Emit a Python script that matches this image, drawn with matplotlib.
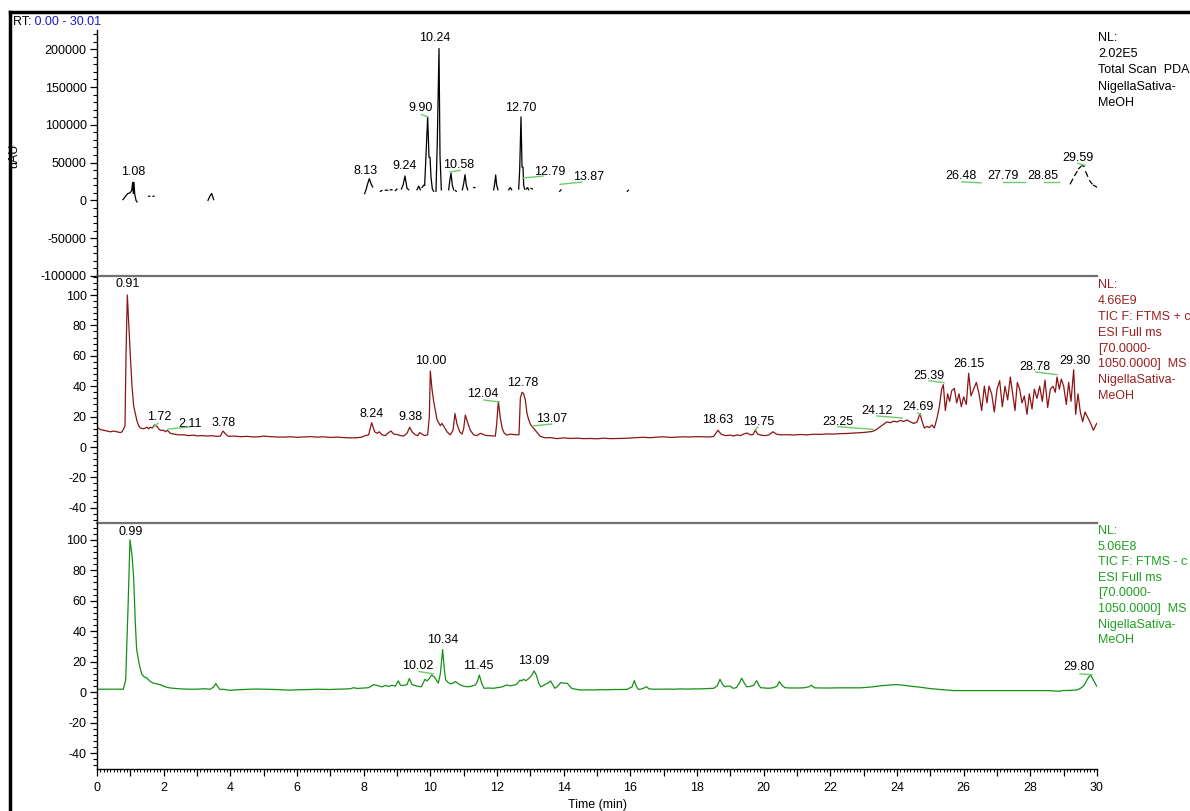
import numpy as np
import matplotlib
matplotlib.use("Agg")
import matplotlib.pyplot as plt
from matplotlib.lines import Line2D
from matplotlib.ticker import MultipleLocator, FuncFormatter

plt.rcParams['font.family'] = ['Liberation Sans', 'DejaVu Sans']
plt.rcParams['font.size'] = 9
plt.rcParams['axes.unicode_minus'] = False

nan = np.nan

# ---------------- data ----------------
# Panel 1: PDA total scan (broken trace, NaN = gap)
pda_t = [0.78, 0.85, 0.92, 0.99, 1.04, 1.07, 1.09, 1.11, 1.13, 1.17, 1.20, nan,
         1.55, 1.58, nan, 1.68, 1.71, nan,
         3.33, 3.38, 3.42, nan, 3.44, 3.47, 3.50, nan,
         8.03, 8.07, 8.12, 8.17, 8.22, 8.27, nan,
         8.50, 8.55, nan, 8.65, 8.72, nan, 8.80, 8.85, nan, 8.95, 9.00, nan,
         9.13, 9.18, 9.24, 9.30, 9.35, nan,
         9.60, 9.65, 9.70, nan, 9.75, 9.80, nan,
         9.83, 9.87, 9.92, 9.96, 9.99, 10.02, 10.06, 10.10, nan,
         10.17, 10.21, 10.26, 10.29, 10.33, nan,
         10.55, 10.58, 10.62, 10.66, 10.70, nan, 10.75, 10.78, nan,
         10.96, 11.00, 11.04, 11.08, 11.12, nan,
         11.30, 11.34, nan,
         11.90, 11.93, 11.96, 11.99, 12.03, nan,
         12.35, 12.40, 12.44, nan,
         12.65, 12.68, 12.72, 12.75, 12.78, 12.80, 12.83, nan,
         12.88, 12.92, 12.95, nan, 13.02, 13.06, nan,
         13.88, 13.92, nan, 15.91, 15.94, nan,
         29.20, 29.27, nan, 29.33, 29.40, nan, 29.45, 29.52, nan, 29.56, 29.61, nan,
         29.66, 29.72, nan, 29.78, 29.85, nan, 29.90, 29.99]
pda_v = [1000, 5000, 9000, 10000, 13000, 24000, 9000, 24000, 9000, 0, -2000, nan,
         5500, 5500, nan, 5500, 5500, nan,
         0, 5000, 8000, nan, 9000, 5000, 1000, nan,
         9000, 14000, 22000, 28800, 22000, 17700, nan,
         12000, 13000, nan, 13500, 13500, nan, 14000, 14000, nan, 13000, 15000, nan,
         15000, 20000, 32300, 16000, 14000, nan,
         14000, 19000, 14000, nan, 17000, 20000, nan,
         20000, 60000, 110500, 57000, 57000, 31000, 15000, 12000, nan,
         12000, 80000, 201000, 60000, 14000, nan,
         14000, 25000, 36000, 20000, 14000, nan, 13000, 12000, nan,
         14000, 22000, 34000, 20000, 14000, nan,
         17000, 17000, nan,
         14000, 22000, 33600, 20000, 14000, nan,
         14000, 17000, 14000, nan,
         15000, 40000, 110500, 44000, 44000, 20000, 15000, nan,
         15000, 17000, 14000, nan, 16000, 15000, nan,
         12000, 14000, nan, 12000, 13500, nan,
         22000, 28000, nan, 33000, 38000, nan, 42000, 45000, nan, 46000, 45000, nan,
         38000, 32000, nan, 26000, 22000, nan, 20000, 17700]

# Panel 2: TIC positive mode (relative abundance)
pos_t = [0.0, 0.1, 0.2, 0.3, 0.4, 0.5, 0.6, 0.7, 0.75, 0.8, 0.84, 0.87, 0.91, 0.96, 1.0,
         1.05, 1.1, 1.15, 1.2, 1.25, 1.3, 1.4, 1.5, 1.55, 1.6, 1.66, 1.72, 1.8, 1.85, 1.9,
         2.0, 2.05, 2.11, 2.2, 2.3, 2.45, 2.6, 2.75, 2.9, 3.0, 3.15, 3.3, 3.45, 3.6, 3.7,
         3.78, 3.88, 3.95, 4.1, 4.3, 4.5, 4.7, 4.9, 5.0, 5.2, 5.4, 5.6, 5.8, 6.0, 6.2, 6.4,
         6.6, 6.8, 7.0, 7.2, 7.4, 7.6, 7.8, 7.95, 8.05, 8.15, 8.24, 8.33, 8.4, 8.47, 8.55,
         8.65, 8.75, 8.82, 8.9, 9.0, 9.1, 9.2, 9.3, 9.38, 9.45, 9.55, 9.62, 9.68, 9.75,
         9.82, 9.92, 9.97, 10.0, 10.05, 10.1, 10.15, 10.2, 10.3, 10.35, 10.42, 10.5, 10.6,
         10.68, 10.74, 10.8, 10.88, 10.95, 11.0, 11.05, 11.12, 11.2, 11.3, 11.4, 11.5,
         11.57, 11.65, 11.75, 11.85, 11.95, 11.99, 12.04, 12.1, 12.16, 12.22, 12.3, 12.4,
         12.5, 12.6, 12.66, 12.7, 12.75, 12.8, 12.85, 12.9, 12.95, 13.0, 13.07, 13.15,
         13.22, 13.3, 13.45, 13.6, 13.8, 14.0, 14.2, 14.4, 14.6, 14.8, 15.0, 15.2, 15.4,
         15.6, 15.8, 16.0, 16.2, 16.4, 16.6, 16.8, 17.0, 17.2, 17.4, 17.6, 17.8, 18.0,
         18.2, 18.4, 18.5, 18.63, 18.72, 18.85, 19.0, 19.1, 19.2, 19.3, 19.4, 19.5, 19.6,
         19.68, 19.75, 19.82, 19.92, 20.05, 20.15, 20.28, 20.38, 20.5, 20.7, 20.9, 21.1,
         21.3, 21.5, 21.7, 21.9, 22.1, 22.3, 22.5, 22.7, 22.9, 23.1, 23.25, 23.35, 23.5,
         23.6, 23.7, 23.8, 23.9, 24.0, 24.1, 24.2, 24.3, 24.4, 24.5, 24.6, 24.69, 24.75,
         24.82, 24.9, 24.97, 25.05, 25.12, 25.2, 25.27, 25.34, 25.39, 25.45, 25.52, 25.58,
         25.64, 25.72, 25.79, 25.86, 25.93, 26.0, 26.08, 26.15, 26.22, 26.3, 26.38, 26.46,
         26.54, 26.62, 26.7, 26.76, 26.84, 26.92, 27.0, 27.08, 27.16, 27.24, 27.32, 27.4,
         27.47, 27.54, 27.61, 27.68, 27.75, 27.82, 27.9, 27.97, 28.05, 28.12, 28.2, 28.28,
         28.36, 28.44, 28.52, 28.6, 28.68, 28.75, 28.8, 28.87, 28.93, 29.0, 29.08, 29.15,
         29.22, 29.3, 29.36, 29.43, 29.5, 29.57, 29.64, 29.71, 29.8, 29.89, 29.99]
pos_v = [13, 11.5, 11, 10.5, 10, 10.5, 10, 9.5, 10, 12, 14, 60, 100, 78, 60,
         40, 27, 22, 17, 14, 12.5, 12, 13, 12, 13, 12.5, 14.5, 13.5, 12, 11,
         11, 10, 11, 9, 8.5, 8, 8, 7.5, 7.8, 7.3, 7.5, 7.2, 7.4, 7, 7.2,
         10.5, 8, 7, 7.2, 6.8, 7, 6.6, 6.8, 7.2, 6.8, 6.6, 6.5, 6.7, 6.4, 6.6, 6.8,
         6.5, 6.7, 6.3, 6.5, 6.2, 6.0, 6.1, 6.5, 7.5, 8, 16, 10, 9, 10, 8,
         7.5, 9.5, 10.5, 8.5, 8.2, 7.5, 7.2, 9, 13, 10, 8, 7.5, 9.5, 8.5,
         7.5, 8, 20, 50, 38, 30, 24, 18, 14, 15.5, 13, 10, 8,
         11, 22, 15, 10, 8.5, 12, 21, 16, 11, 8, 7.5, 9,
         8.5, 7.6, 7.5, 7.3, 7.2, 15, 30, 19, 12, 9, 7.8, 8.5,
         8.2, 8, 8.2, 32, 36, 35, 31, 22, 18, 15, 13, 11,
         9, 7, 6, 6.2, 5.5, 6, 5.6, 5.8, 5.5, 5.6, 5.4, 5.8, 5.5,
         5.6, 5.7, 5.9, 6.2, 6.4, 6.1, 6.5, 6.7, 6.3, 6.5, 6.7, 6.6, 6.8,
         6.7, 6.6, 7, 11, 8.5, 7.5, 7.8, 7.2, 8, 7.5, 8.5, 9.2, 8,
         8.2, 11, 8.5, 7.8, 7.5, 7.9, 10, 8.5, 8, 8.1, 7.9, 8.2,
         8, 8.4, 8.3, 8.6, 8.5, 8.8, 8.9, 9.2, 9.4, 9.8, 10.2, 11, 13.4,
         15, 16.5, 16, 17, 16.5, 17.5, 16.8, 17.8, 16.5, 15.5, 16.5, 22, 17,
         12.5, 13.5, 12.8, 14.5, 12.5, 19, 26.5, 38, 41, 24, 35, 30,
         37, 38.6, 29, 35, 26.5, 33, 28, 48.5, 33.6, 38, 42.5, 35,
         24, 40, 29, 40, 35, 23, 38, 43.6, 26.5, 40, 31, 46,
         35, 24, 42.5, 38, 29, 33.6, 21.5, 35, 25, 38, 32, 40,
         30, 44, 26, 38, 40, 36, 46, 38, 44.7, 40, 28, 42.5,
         30, 50.8, 21.5, 35, 23, 16.6, 23, 19.9, 16, 11, 15.5]

# Panel 3: TIC negative mode (relative abundance)
neg_t = [0.0, 0.4, 0.79, 0.86, 0.93, 0.99, 1.05, 1.1, 1.15, 1.19, 1.27, 1.34, 1.42, 1.49,
         1.6, 1.69, 1.8, 1.89, 2.0, 2.09, 2.2, 2.4, 2.6, 2.8, 3.0, 3.2, 3.4, 3.5, 3.56,
         3.63, 3.69, 3.8, 3.9, 4.0, 4.2, 4.4, 4.6, 4.8, 5.0, 5.2, 5.4, 5.6, 5.8, 6.0, 6.2,
         6.4, 6.6, 6.8, 7.0, 7.2, 7.4, 7.6, 7.7, 7.8, 8.0, 8.15, 8.3, 8.45, 8.55, 8.65,
         8.75, 8.85, 8.95, 9.04, 9.1, 9.2, 9.3, 9.37, 9.45, 9.6, 9.73, 9.84, 9.9, 9.97,
         10.04, 10.12, 10.18, 10.24, 10.3, 10.37, 10.42, 10.46, 10.53, 10.6, 10.68, 10.75,
         10.82, 10.9, 11.0, 11.1, 11.2, 11.35, 11.41, 11.47, 11.54, 11.61, 11.75, 11.89,
         12.0, 12.15, 12.29, 12.4, 12.54, 12.62, 12.69, 12.74, 12.79, 12.87, 12.95, 13.04,
         13.11, 13.18, 13.25, 13.31, 13.38, 13.46, 13.54, 13.61, 13.67, 13.74, 13.82, 13.91,
         14.0, 14.11, 14.18, 14.24, 14.35, 14.51, 14.7, 14.9, 15.1, 15.3, 15.5, 15.7, 15.9,
         16.05, 16.12, 16.18, 16.24, 16.35, 16.49, 16.56, 16.7, 16.9, 17.1, 17.3, 17.5,
         17.7, 17.9, 18.1, 18.3, 18.5, 18.6, 18.69, 18.77, 18.84, 18.92, 18.99, 19.08,
         19.18, 19.27, 19.34, 19.42, 19.49, 19.58, 19.7, 19.79, 19.86, 19.91, 20.02, 20.14,
         20.3, 20.4, 20.47, 20.55, 20.64, 20.8, 21.0, 21.2, 21.35, 21.44, 21.52, 21.7, 22.0,
         22.3, 22.6, 22.9, 23.2, 23.5, 23.8, 24.0, 24.2, 24.4, 24.7, 25.0, 25.3, 25.69,
         26.0, 26.5, 27.0, 27.5, 28.0, 28.5, 28.89, 28.95, 29.2, 29.39, 29.5, 29.59, 29.65,
         29.71, 29.76, 29.81, 29.88, 29.94, 29.99]
neg_v = [2, 2, 2, 8, 55, 100, 90, 75, 45, 28, 18, 12, 10, 9.4,
         7, 6, 5.5, 5, 4, 3.3, 2.8, 2.4, 2.1, 2, 2, 2.3, 2, 3.5, 5.7,
         3.5, 1.8, 2, 1.5, 1.3, 1.6, 1.8, 2, 2.1, 2, 1.9, 1.8, 1.5, 1.4, 1.6, 1.7,
         1.8, 2, 1.9, 1.8, 2, 2.1, 2.3, 3, 2.5, 2.8, 3, 5, 4.2, 3.5, 4.5,
         3.8, 4.6, 4, 7.5, 4.6, 4.5, 5, 9, 5, 4, 3.6, 8.5, 7.4, 9,
         11.4, 10, 8, 6, 12, 28, 15, 8.1, 6.5, 5.5, 6, 7,
         6, 4.8, 4, 3.6, 3.8, 4.8, 7, 11.3, 6, 2.6, 2.8, 2.6,
         3, 3.5, 4.8, 4.2, 4.8, 6, 8, 7.4, 8.5, 7.6, 9, 11,
         14, 11.3, 6, 3.6, 4.2, 5.4, 6.2, 7.4, 5, 2.6, 4, 6.3,
         6, 5.9, 4, 2.6, 2, 1.5, 1.6, 1.5, 1.7, 1.6, 1.8, 1.8, 1.9,
         3.5, 7.6, 4, 1.9, 2.2, 3.6, 2.2, 2, 2, 2.1, 2, 2.2,
         2.1, 2.2, 2.2, 2.4, 2.6, 4, 8.5, 5, 3.6, 4, 4, 2.6,
         3, 6, 9.2, 6, 3.6, 3.8, 4.5, 7.6, 4.5, 3, 2.8, 2.6,
         3, 4, 7, 4.5, 3, 2.8, 2.8, 2.9, 3.5, 4.6, 2.9, 2.8, 2.8,
         2.9, 2.9, 2.9, 3.4, 4.2, 4.8, 5, 4.6, 4, 3.3, 2.4, 1.8, 1.1,
         1.1, 1.1, 1.1, 1.1, 1.1, 1.1, 0.7, 1.1, 1.2, 1.5, 2.5, 4, 6,
         8.5, 10.2, 11.3, 8.5, 6, 4]

# Peak labels: (text, label x, label y)
pda_labels = [("1.08", 1.08, 37100), ("8.13", 8.07, 38500), ("9.24", 9.24, 45100),
              ("9.90", 9.72, 122000), ("10.24", 10.14, 214800), ("10.58", 10.86, 46400),
              ("12.70", 12.72, 122000), ("12.79", 13.59, 37100), ("13.87", 14.76, 30500),
              ("26.48", 25.92, 31800), ("27.79", 27.17, 31800), ("28.85", 28.38, 31800),
              ("29.59", 29.42, 55700)]
pos_labels = [("0.91", 0.93, 107.2), ("1.72", 1.86, 19.7), ("2.11", 2.79, 15.1),
              ("3.78", 3.81, 15.8), ("8.24", 8.25, 21.7), ("9.38", 9.39, 19.7),
              ("10.00", 10.02, 56.8), ("12.04", 11.57, 34.9), ("12.78", 12.78, 42.3),
              ("13.07", 13.64, 18.4), ("18.63", 18.63, 17.8), ("19.75", 19.86, 16.6),
              ("23.25", 22.22, 16.6), ("24.12", 23.40, 23.9), ("24.69", 24.62, 26.5),
              ("25.39", 24.95, 46.9), ("26.15", 26.16, 54.4), ("28.78", 28.14, 52.4),
              ("29.30", 29.33, 56.8)]
neg_labels = [("0.99", 1.00, 105.4), ("10.02", 9.63, 16.9), ("10.34", 10.37, 34.0),
              ("11.45", 11.45, 16.9), ("13.09", 13.10, 20.2), ("29.80", 29.45, 16.5)]

# Leader lines from displaced labels to their peaks: (x1, y1, x2, y2)
pda_leaders = [(9.74, 113600, 9.92, 110500), (10.59, 37500, 10.89, 39800),
               (12.78, 29600, 13.38, 32200), (13.89, 21200, 14.54, 24300),
               (25.95, 24500, 26.52, 23200), (27.18, 23900, 27.84, 23900),
               (28.41, 23900, 28.86, 23900), (29.43, 49100, 29.64, 46400)]
pos_leaders = [(1.71, 13.4, 1.83, 15.6), (2.13, 11.8, 2.79, 13.2), (11.61, 30.9, 12.06, 29.6),
               (13.07, 13.8, 13.64, 15.1), (19.74, 11.2, 19.83, 13.2), (22.23, 13.4, 23.28, 11.6),
               (23.40, 20.4, 24.15, 19.1), (24.63, 22.4, 24.72, 21.0), (24.96, 43.6, 25.41, 42.3),
               (28.17, 49.3, 28.80, 47.6)]
neg_leaders = [(9.66, 13.6, 10.08, 12.1), (29.49, 12.1, 29.85, 11.5)]

pda_info = ["NL:", "2.02E5", "Total Scan  PDA", "NigellaSativa-", "MeOH"]
pos_info = ["NL:", "4.66E9", "TIC F: FTMS + c", "ESI Full ms", "[70.0000-",
            "1050.0000]  MS", "NigellaSativa-", "MeOH"]
neg_info = ["NL:", "5.06E8", "TIC F: FTMS - c", "ESI Full ms", "[70.0000-",
            "1050.0000]  MS", "NigellaSativa-", "MeOH"]

# ---------------- figure ----------------
W, H = 1190, 811
fig = plt.figure(figsize=(W / 100, H / 100), dpi=100, facecolor='white')

def fx(px):
    return px / W

def fy(py):
    return 1 - py / H

left = fx(97)
width = fx(1097) - left
ax1 = fig.add_axes([left, fy(276), width, fy(30) - fy(276)])
ax2 = fig.add_axes([left, fy(523), width, fy(276) - fy(523)])
ax3 = fig.add_axes([left, fy(768.5), width, fy(523) - fy(768.5)])

RED = '#8c1414'
RED_T = '#9a2020'
GREEN = '#159015'
GREEN_T = '#20a020'
LEADER = '#6acd6a'

for ax in (ax1, ax2, ax3):
    ax.set_xlim(0, 30)
    ax.spines['top'].set_visible(False)
    ax.spines['right'].set_visible(False)
    ax.spines['left'].set_linewidth(1.0)
    ax.patch.set_alpha(0)
    ax.tick_params(axis='y', which='major', length=5, width=0.9, pad=2.5, labelsize=9)
    ax.tick_params(axis='y', which='minor', length=3, width=0.8)

for ax in (ax1, ax2):
    ax.spines['bottom'].set_color('#707070')
    ax.spines['bottom'].set_linewidth(1.6)
    ax.set_xticks([])
    ax.tick_params(axis='x', which='both', bottom=False, labelbottom=False)

ax1.set_ylim(-100000, 225400)
ax1.yaxis.set_major_locator(MultipleLocator(50000))
ax1.yaxis.set_minor_locator(MultipleLocator(10000))
ax1.yaxis.set_major_formatter(FuncFormatter(lambda v, p: f"{int(v)}"))

for ax in (ax2, ax3):
    ax.yaxis.set_major_locator(MultipleLocator(20))
    ax.yaxis.set_minor_locator(MultipleLocator(4))
ax2.set_ylim(-50, 112.5)
ax3.set_ylim(-50, 111)
ax2.set_yticks([-40, -20, 0, 20, 40, 60, 80, 100])
ax3.set_yticks([-40, -20, 0, 20, 40, 60, 80, 100])

ax3.spines['bottom'].set_linewidth(1.0)
ax3.xaxis.set_major_locator(MultipleLocator(1))
ax3.xaxis.set_minor_locator(MultipleLocator(0.1))
ax3.xaxis.set_major_formatter(FuncFormatter(lambda v, p: f"{int(round(v))}" if int(round(v)) % 2 == 0 else ""))
ax3.tick_params(axis='x', which='major', length=5, width=0.9, pad=5, labelsize=9)
ax3.tick_params(axis='x', which='minor', length=2.5, width=0.7)
ax3.set_xlabel("Time (min)", fontsize=9, labelpad=3)

# traces
ax1.plot(pda_t, pda_v, color='black', lw=0.9)
ax2.plot(pos_t, pos_v, color=RED, lw=0.9)
ax3.plot(neg_t, neg_v, color=GREEN, lw=0.9)

for ax, labels, leaders in ((ax1, pda_labels, pda_leaders),
                            (ax2, pos_labels, pos_leaders),
                            (ax3, neg_labels, neg_leaders)):
    for x1, y1, x2, y2 in leaders:
        ax.plot([x1, x2], [y1, y2], color=LEADER, lw=1.0)
    for s, x, y in labels:
        ax.text(x, y, s, ha='center', va='center', fontsize=9, color='black', clip_on=False)

# right-hand info blocks
def info_block(lines, py0, dy, color):
    for i, s in enumerate(lines):
        fig.text(fx(1098), fy(py0 + i * dy), s, ha='left', va='center', fontsize=9, color=color)

info_block(pda_info, 38, 16.2, 'black')
info_block(pos_info, 285.5, 15.8, RED_T)
info_block(neg_info, 531, 15.6, GREEN_T)

# y label of PDA panel (partly hidden behind frame)
fig.text(fx(14.5), fy(156), "uAU", rotation=90, ha='center', va='center', fontsize=9)

# RT header
t_rt = fig.text(fx(13), fy(22), "RT:", ha='left', va='center', fontsize=9, color='black')
ax1.annotate(" 0.00 - 30.01", xy=(1, 0.5), xycoords=t_rt, ha='left', va='center',
             fontsize=9, color='#1a1ad0', annotation_clip=False)

# frame lines
fig.add_artist(Line2D([fx(10), fx(10)], [fy(12), fy(811)], color='black', lw=2.5))
fig.add_artist(Line2D([fx(10), fx(1190)], [fy(12), fy(12)], color='black', lw=2.5))

fig.savefig("out.png", dpi=100, facecolor='white')
